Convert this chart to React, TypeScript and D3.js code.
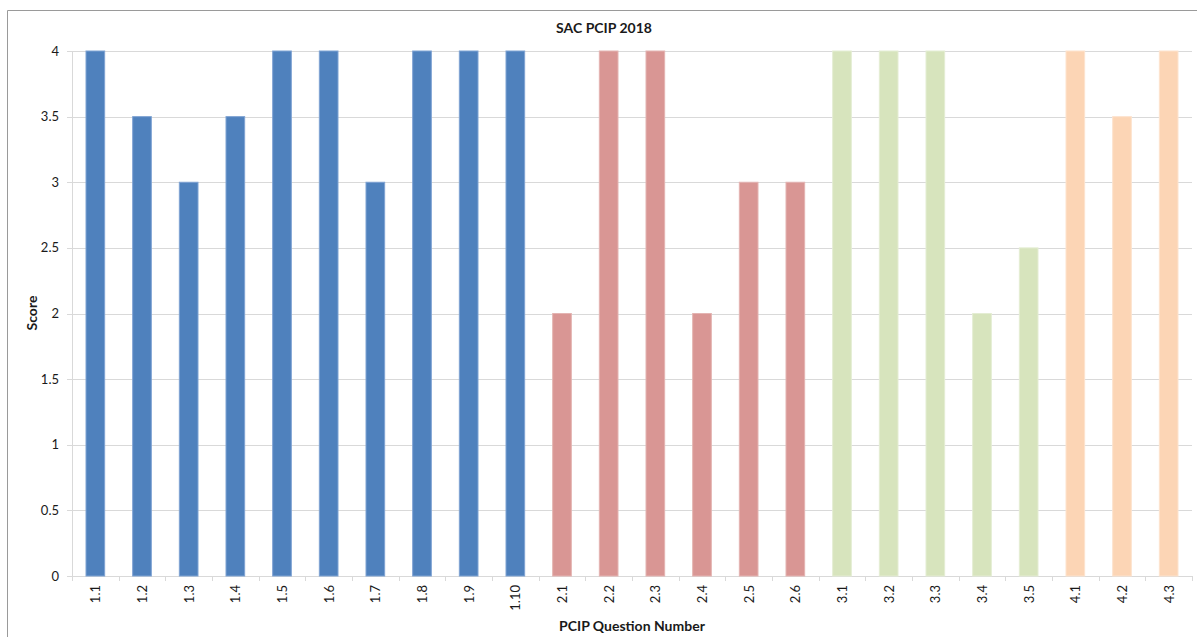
import React from "react";
import * as d3 from "d3";

const categories = ["1.1","1.2","1.3","1.4","1.5","1.6","1.7","1.8","1.9","1.10","2.1","2.2","2.3","2.4","2.5","2.6","3.1","3.2","3.3","3.4","3.5","4.1","4.2","4.3"];
const scores = [4,3.5,3,3.5,4,4,3,4,4,4, 2,4,4,2,3,3, 4,4,4,2,2.5, 4,3.5,4];
const groups = [1,1,1,1,1,1,1,1,1,1, 2,2,2,2,2,2, 3,3,3,3,3, 4,4,4];
const yTicks = [0,0.5,1,1.5,2,2.5,3,3.5,4];
const groupColors: Record<number,string> = {1:"#4F81BD",2:"#D99694",3:"#D7E4BD",4:"#FCD5B5"};
const groupStroke: Record<number,string> = {1:"#7FA3D3",2:"#E4B4B2",3:"#E4EDD3",4:"#FDE3CE"};

const W = 1197, H = 637;
const left = 72, right = 1192, top = 51, bottom = 576;
const font = "Lato, 'Open Sans', sans-serif";

export default function App() {
  const x = d3.scaleBand().domain(categories).range([left, right]).paddingInner(0.6).paddingOuter(0.3);
  const xb = d3.scaleBand().domain(categories).range([left, right]);
  const y = d3.scaleLinear().domain([0, 4]).range([bottom, top]);
  return (
    <svg width={W} height={H} style={{position:"absolute", left:0, top:0}} fontFamily={font}>
      <rect x={0} y={0} width={W} height={H} fill="#fff" />
      <path d={`M7.5,${H} V10.5 H${W}`} fill="none" stroke="#9a9a9a" strokeWidth={1} />
      <text x={604} y={33} textAnchor="middle" fontSize={14} fontWeight="bold" fill="#1a1a1a">SAC PCIP 2018</text>
      {yTicks.map(t => (
        <g key={t}>
          <line x1={t === 0 ? left - 5 : left - 5} x2={right} y1={Math.round(y(t)) + 0.5} y2={Math.round(y(t)) + 0.5} stroke="#d9d9d9" />
          <text x={59} y={y(t)} dy="0.35em" textAnchor="end" fontSize={13} fill="#1a1a1a">{t}</text>
        </g>
      ))}
      <line x1={left + 0.5} x2={left + 0.5} y1={top} y2={bottom + 5} stroke="#d9d9d9" />
      {categories.map((c, i) => (
        <line key={"t"+c} x1={Math.round(xb(c)! + xb.bandwidth()) + 0.5} x2={Math.round(xb(c)! + xb.bandwidth()) + 0.5} y1={bottom} y2={bottom + 5} stroke="#d9d9d9" />
      ))}
      {categories.map((c, i) => (
        <rect key={c} x={x(c)!} y={y(scores[i])} width={x.bandwidth()} height={y(0) - y(scores[i])}
          fill={groupColors[groups[i]]} stroke={groupStroke[groups[i]]} strokeWidth={1} />
      ))}
      {categories.map((c, i) => {
        const cx = xb(c)! + xb.bandwidth() / 2;
        return (
          <text key={"l"+c} transform={`translate(${cx + 5},585) rotate(-90)`} textAnchor="end" fontSize={13} fill="#1a1a1a">{c}</text>
        );
      })}
      <text transform="translate(37,313) rotate(-90)" textAnchor="middle" fontSize={14} fontWeight="bold" fill="#1a1a1a">Score</text>
      <text x={632} y={631} textAnchor="middle" fontSize={14} fontWeight="bold" fill="#1a1a1a">PCIP Question Number</text>
    </svg>
  );
}
